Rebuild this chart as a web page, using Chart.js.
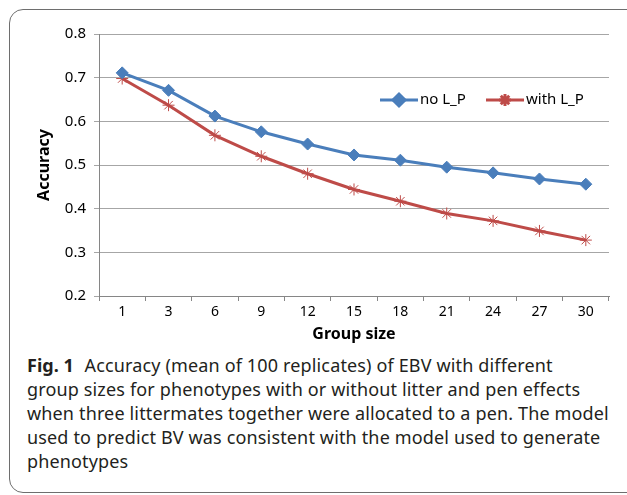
<!DOCTYPE html>
<html>
<head>
<meta charset="utf-8">
<script src="https://cdn.jsdelivr.net/npm/chart.js@4.4.1/dist/chart.umd.min.js"></script>
<style>
  body { margin: 0; background: #fff; width: 627px; height: 495px; overflow: hidden; position: relative; font-family: "Noto Sans", sans-serif; }
  .box { position: absolute; left: 9px; top: 9px; width: 650px; height: 482px; border: 1px solid #6e6e6e; border-radius: 14px; }
  .chart-wrap { position: absolute; left: 0; top: 0; width: 627px; height: 350px; }
  .caption { position: absolute; left: 27px; top: 353px; font-size: 18px; letter-spacing: 0.15px; line-height: 24px; color: #231f20; white-space: nowrap; }
  .caption b { font-weight: 700; margin-right: 6px; letter-spacing: 0; }
</style>
</head>
<body>
<div class="box"></div>
<div class="chart-wrap"><canvas id="accChart"></canvas></div>
<div class="caption">
  <b>Fig. 1</b> Accuracy (mean of 100 replicates) of EBV with different<br>
  group sizes for phenotypes with or without litter and pen effects<br>
  when three littermates together were allocated to a pen. The model<br>
  used to predict BV was consistent with the model used to generate<br>
  phenotypes
</div>
<script>
// dados
const groupSizes = ['1', '3', '6', '9', '12', '15', '18', '21', '24', '27', '30'];
const noLP = [0.711, 0.671, 0.612, 0.576, 0.548, 0.523, 0.511, 0.495, 0.482, 0.468, 0.456];
const withLP = [0.698, 0.637, 0.568, 0.520, 0.480, 0.444, 0.417, 0.389, 0.372, 0.349, 0.328];
const yTicks = [0.2, 0.3, 0.4, 0.5, 0.6, 0.7, 0.8];

const seriesNames = ['no L_P', 'with L_P'];
const blue = '#4a7ebb';
const red = '#be4b48';

// legenda dentro da área do gráfico (como no Excel)
const insideLegend = {
  id: 'insideLegend',
  afterDraw(chart) {
    const ctx = chart.ctx;
    const starts = [380, 486];
    const y = 100;
    chart.data.datasets.forEach((ds, i) => {
      const x = starts[i];
      ctx.save();
      ctx.strokeStyle = ds.borderColor;
      ctx.lineWidth = 3;
      ctx.beginPath();
      ctx.moveTo(x, y);
      ctx.lineTo(x + 38, y);
      ctx.stroke();
      ctx.fillStyle = ds.pointBackgroundColor;
      ctx.strokeStyle = ds.pointBorderColor;
      Chart.helpers.drawPoint(ctx, {
        pointStyle: ds.pointStyle,
        radius: ds.pointRadius,
        rotation: 0,
        borderWidth: ds.pointBorderWidth
      }, x + 19, y);
      ctx.fillStyle = '#000';
      ctx.font = '15px "Noto Sans"';
      ctx.textBaseline = 'middle';
      ctx.fillText(ds.label, x + 40, y);
      ctx.restore();
    });
  }
};

const ctx = document.getElementById('accChart').getContext('2d');
new Chart(ctx, {
  type: 'line',
  data: {
    labels: groupSizes,
    datasets: [
      {
        label: seriesNames[0],
        data: noLP,
        borderColor: blue,
        backgroundColor: blue,
        borderWidth: 3,
        pointStyle: 'rectRot',
        pointRadius: 6,
        pointBackgroundColor: blue,
        pointBorderColor: blue,
        pointBorderWidth: 1,
        tension: 0
      },
      {
        label: seriesNames[1],
        data: withLP,
        borderColor: red,
        backgroundColor: red,
        borderWidth: 3,
        pointStyle: 'star',
        pointRadius: 6,
        pointBackgroundColor: red,
        pointBorderColor: red,
        pointBorderWidth: 1,
        tension: 0
      }
    ]
  },
  options: {
    responsive: true,
    maintainAspectRatio: false,
    animation: false,
    layout: { padding: { left: 31, top: 34, right: 18, bottom: 6 } },
    plugins: {
      legend: { display: false },
      tooltip: { enabled: false }
    },
    scales: {
      x: {
        offset: true,
        grid: { offset: true, drawOnChartArea: false, drawTicks: true, tickLength: 5, color: '#868686' },
        border: { color: '#868686', width: 1 },
        ticks: { color: '#000', font: { family: 'Noto Sans', size: 14 }, padding: 3, maxRotation: 0 },
        title: { display: true, text: 'Group size', color: '#000', font: { family: 'Noto Sans', size: 16, weight: 'bold' }, padding: { top: 1, bottom: 0 } }
      },
      y: {
        min: 0.2,
        max: 0.8,
        afterFit(scale) { scale.width = 68; },
        afterBuildTicks(scale) { scale.ticks = yTicks.map(v => ({ value: v })); },
        grid: { color: '#a6a6a6', tickLength: 5 },
        border: { color: '#868686', width: 1 },
        ticks: {
          color: '#000',
          font: { family: 'Noto Sans', size: 15 },
          padding: 8,
          callback: v => v.toFixed(1)
        },
        title: { display: true, text: 'Accuracy', color: '#000', font: { family: 'Noto Sans', size: 16, weight: 'bold' }, padding: { top: 4, bottom: 4 } }
      }
    }
  },
  plugins: [insideLegend]
});
</script>
</body>
</html>
